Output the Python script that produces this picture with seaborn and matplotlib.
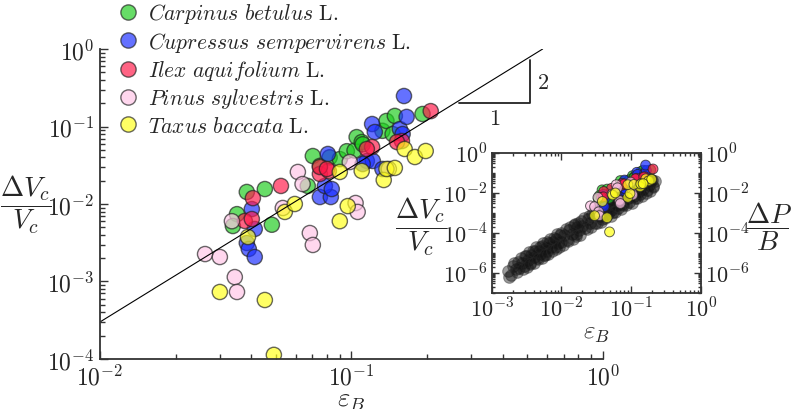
import numpy as np
import pandas as pd
import matplotlib
matplotlib.use('Agg')
import matplotlib.pyplot as plt
import seaborn as sns
from matplotlib.lines import Line2D
from matplotlib.ticker import FuncFormatter, LogLocator, FixedLocator, NullFormatter

# strain eps_B and volume change dV_c/V_c per species
carpinus_eps = [0.0384, 0.0453, 0.0351, 0.0338, 0.0483, 0.0671, 0.0703, 0.075, 0.082, 0.090,
                0.096, 0.103, 0.105, 0.110, 0.111, 0.133, 0.138, 0.149, 0.146, 0.192]
carpinus_dv = [0.0143, 0.0156, 0.0074, 0.0052, 0.0054, 0.0171, 0.0416, 0.031, 0.040, 0.038,
               0.048, 0.049, 0.073, 0.063, 0.059, 0.088, 0.118, 0.137, 0.080, 0.145]
cupressus_eps = [0.0402, 0.0413, 0.0384, 0.0391, 0.0413, 0.075, 0.0829, 0.0785, 0.0807, 0.0836,
                 0.1153, 0.1218, 0.111, 0.121, 0.124, 0.156, 0.160, 0.166, 0.162, 0.133]
cupressus_dv = [0.0086, 0.00476, 0.00314, 0.00263, 0.00207, 0.0123, 0.0123, 0.0171, 0.0442, 0.0156,
                0.0359, 0.0359, 0.0328, 0.1077, 0.0849, 0.0929, 0.080, 0.133, 0.2475, 0.0283]
ilex_eps = [0.0525, 0.0406, 0.0377, 0.0402, 0.075, 0.0814, 0.075, 0.080, 0.121, 0.1153,
            0.159, 0.152, 0.207]
ilex_dv = [0.0171, 0.0119, 0.00604, 0.0064, 0.0244, 0.0267, 0.030, 0.0283, 0.0544, 0.0513,
           0.065, 0.063, 0.158]
pinus_eps = [0.0262, 0.030, 0.0344, 0.0351, 0.0335, 0.0534, 0.0684, 0.0703, 0.104, 0.106,
             0.0613, 0.064, 0.0986, 0.141]
pinus_dv = [0.00226, 0.00207, 0.00114, 0.000732, 0.0060, 0.00888, 0.00422, 0.00296, 0.0103, 0.0079,
            0.0259, 0.0181, 0.0348, 0.0283]
taxus_eps = [0.0388, 0.0544, 0.0596, 0.030, 0.0453, 0.0492, 0.090, 0.0968, 0.1346, 0.090,
             0.110, 0.163, 0.179, 0.1977, 0.138, 0.149]
taxus_dv = [0.00375, 0.0079, 0.0100, 0.000732, 0.000577, 0.000113, 0.0060, 0.0094, 0.0204, 0.0259,
            0.0267, 0.0513, 0.0404, 0.0483, 0.0283, 0.0292]

species = ['Carpinus betulus', 'Cupressus sempervirens', 'Ilex aquifolium',
           'Pinus sylvestris', 'Taxus baccata']
colors = ['#1fcc1f', '#1a2eff', '#ff1a4a', '#ffc4e6', '#ffff1a']

# inset: pressure dP/B vs eps_B (black cloud)
press_eps = [0.0017, 0.0019, 0.0020, 0.0022, 0.0024, 0.0025, 0.0027, 0.0029, 0.0031, 0.0033,
             0.0035, 0.0037, 0.0040, 0.0042, 0.0045, 0.0048, 0.0050, 0.0053, 0.0056, 0.0060,
             0.0063, 0.0067, 0.0071, 0.0075, 0.0080, 0.0085, 0.0090, 0.0095, 0.010, 0.011,
             0.012, 0.013, 0.014, 0.015, 0.016, 0.017, 0.018, 0.019, 0.020, 0.022,
             0.024, 0.026, 0.028, 0.030, 0.033, 0.036, 0.040, 0.044, 0.048, 0.052,
             0.057, 0.062, 0.068, 0.075, 0.082, 0.090, 0.10, 0.11, 0.12, 0.13,
             0.14, 0.15, 0.16, 0.18, 0.20, 0.22,
             0.035, 0.038, 0.042, 0.046, 0.050, 0.055, 0.060, 0.065, 0.070, 0.078,
             0.085, 0.095, 0.105, 0.115, 0.125, 0.135, 0.150, 0.170, 0.190, 0.210,
             0.0018, 0.0021, 0.0023, 0.0026, 0.0028, 0.0030, 0.0032, 0.0034, 0.0036, 0.0039,
             0.0041, 0.0044, 0.0047, 0.0049, 0.0052, 0.0055, 0.0058, 0.0062, 0.0065, 0.0069,
             0.0073, 0.0078, 0.0083, 0.0088, 0.0093, 0.0098, 0.0105, 0.0115, 0.0125, 0.0135,
             0.0145, 0.0155, 0.0165, 0.0175, 0.0185, 0.021, 0.023, 0.025, 0.027, 0.029,
             0.032, 0.034, 0.037, 0.039, 0.043, 0.047, 0.051, 0.054, 0.059, 0.064,
             0.071, 0.077, 0.086, 0.093, 0.102, 0.112, 0.122, 0.132, 0.145, 0.155,
             0.165, 0.175, 0.185, 0.195, 0.205]
press_dp = [1.23e-6, 7.9e-7, 2.2e-6, 1.5e-6, 3.6e-6, 1.8e-6, 3.3e-6, 2.2e-6, 7.1e-6, 4.6e-6,
            3.3e-6, 8.3e-6, 6.2e-6, 1.2e-5, 5.6e-6, 1.3e-5, 8.9e-6, 2.25e-5, 8.0e-6, 1.85e-5,
            1.3e-5, 3.3e-5, 2.1e-5, 3.4e-5, 1.9e-5, 4.9e-5, 3.1e-5, 7.9e-5, 3.5e-5, 7.7e-5,
            4.6e-5, 1.4e-4, 9.1e-5, 2.4e-4, 8.6e-5, 1.95e-4, 1.4e-4, 3.9e-4, 2.2e-4, 1.7e-4,
            5.2e-4, 3.1e-4, 9.1e-4, 3.3e-4, 9.1e-4, 6.9e-4, 1.95e-3, 8.5e-4, 2.3e-3, 1.4e-3,
            3.7e-3, 2.5e-3, 6.1e-3, 2.7e-3, 7.3e-3, 5.6e-3, 0.014, 6.8e-3, 0.0164, 0.0123,
            0.0256, 0.0149, 0.0305, 0.0248, 0.044, 0.038,
            1.26e-3, 5.0e-4, 2.0e-3, 8.9e-4, 3.2e-3, 1.1e-3, 5.0e-3, 1.8e-3, 7.1e-3, 2.5e-3,
            0.010, 3.5e-3, 0.0158, 5.6e-3, 0.0224, 8.9e-3, 0.0316, 0.0141, 0.050, 0.0224,
            6.2e-7, 3.1e-6, 1.06e-6, 5.5e-6, 1.6e-6, 7.4e-6, 1.9e-6, 1.09e-5, 2.8e-6, 1.3e-5,
            3.3e-6, 1.9e-5, 4.9e-6, 2.1e-5, 5.4e-6, 3.1e-5, 7.7e-6, 3.5e-5, 8.8e-6, 5.0e-5,
            1.26e-5, 5.8e-5, 1.5e-5, 8.4e-5, 2.1e-5, 9.5e-5, 2.5e-5, 1.5e-4, 4.0e-5, 1.9e-4,
            4.9e-5, 2.8e-4, 7.3e-5, 3.3e-4, 8.3e-5, 5.5e-4, 1.5e-4, 7.1e-4, 1.9e-4, 1.23e-3,
            3.0e-4, 1.7e-3, 3.7e-4, 2.3e-3, 5.7e-4, 3.5e-3, 7.4e-4, 4.7e-3, 1.13e-3, 6.7e-3,
            1.5e-3, 0.010, 2.5e-3, 0.015, 3.3e-3, 0.020, 5.4e-3, 0.0286, 6.9e-3, 0.0358,
            0.0103, 0.0466, 0.0132, 0.0467, 0.0207]

# slope-2 guide line and triangle
fit_x = [0.01, 0.577]
fit_y = [3e-4, 1.0]
tri_x = [0.267, 0.516]
tri_y = [0.201, 0.72]

frames = []
for name, e, d in zip(species,
                      [carpinus_eps, cupressus_eps, ilex_eps, pinus_eps, taxus_eps],
                      [carpinus_dv, cupressus_dv, ilex_dv, pinus_dv, taxus_dv]):
    frames.append(pd.DataFrame({'eps': e, 'dv': d, 'species': name}))
df = pd.concat(frames, ignore_index=True)
palette = dict(zip(species, colors))

sns.set_style('ticks')
plt.rcParams['mathtext.fontset'] = 'cm'
plt.rcParams['font.family'] = ['DejaVu Serif']
plt.rcParams['axes.edgecolor'] = '#333333'

fig = plt.figure(figsize=(7.93, 4.10), dpi=100)
ax = fig.add_axes([0.126, 0.122, 0.634, 0.756])
ax_in = fig.add_axes([0.620, 0.283, 0.2636, 0.3415])

sexp = FuncFormatter(lambda v, p: r'$10^{%d}$' % int(round(np.log10(v))))

# main panel
sns.scatterplot(data=df, x='eps', y='dv', hue='species', hue_order=species, palette=palette,
                s=120, alpha=0.68, edgecolor='#222222', linewidth=1.0, ax=ax, legend=False)
ax.set_xscale('log')
ax.set_yscale('log')
ax.set_xlim(1e-2, 1)
ax.set_ylim(1e-4, 1)
ax.plot(fit_x, fit_y, color='black', lw=0.8)
ax.plot([tri_x[0], tri_x[1], tri_x[1]], [tri_y[0], tri_y[0], tri_y[1]], color='#222222', lw=1.3)
ax.text(np.sqrt(tri_x[0] * tri_x[1]), tri_y[0] * 0.88, '$1$', ha='center', va='top', fontsize=16)
ax.text(tri_x[1] * 1.06, np.sqrt(tri_y[0] * tri_y[1]), '$2$', ha='left', va='center', fontsize=16)
sns.despine(ax=ax)
for axis in [ax.xaxis, ax.yaxis]:
    axis.set_major_locator(LogLocator(base=10, numticks=10))
    axis.set_minor_locator(LogLocator(base=10, subs=np.arange(2, 10), numticks=20))
    axis.set_major_formatter(sexp)
    axis.set_minor_formatter(NullFormatter())
ax.tick_params(which='both', direction='in', labelsize=17, color='#333333', width=1)
ax.tick_params(which='major', length=6, pad=4)
ax.tick_params(which='minor', length=3.5)
ax.spines['left'].set_linewidth(1.3)
ax.spines['bottom'].set_linewidth(1.3)
ax.set_xlabel(r'$\varepsilon_B$', fontsize=19, va='center')
ax.xaxis.set_label_coords(0.5, -0.13)
ax.set_ylabel(r'$\dfrac{\Delta V_c}{V_c}$', fontsize=20, rotation=0, ha='center', va='center')
ax.yaxis.set_label_coords(-0.148, 0.5)

# inset
sns.scatterplot(x=press_eps, y=press_dp, color='#111111', alpha=0.42, s=70,
                edgecolor='#2a2a2a', linewidth=0.8, ax=ax_in, legend=False)
sns.scatterplot(data=df, x='eps', y='dv', hue='species', hue_order=species, palette=palette,
                s=50, alpha=0.72, edgecolor='#222222', linewidth=0.7, ax=ax_in, legend=False)
ax_in.set_xscale('log')
ax_in.set_yscale('log')
ax_in.set_xlim(1e-3, 1)
ax_in.set_ylim(1e-7, 1)
ax_in.xaxis.set_major_locator(LogLocator(base=10, numticks=10))
ax_in.xaxis.set_minor_locator(LogLocator(base=10, subs=np.arange(2, 10), numticks=20))
ax_in.yaxis.set_major_locator(FixedLocator([1e0, 1e-2, 1e-4, 1e-6]))
ax_in.yaxis.set_minor_locator(LogLocator(base=10, subs=np.arange(1, 10), numticks=20))
for axis in [ax_in.xaxis, ax_in.yaxis]:
    axis.set_major_formatter(sexp)
    axis.set_minor_formatter(NullFormatter())
ax_in.tick_params(which='both', direction='in', top=True, right=True, labelright=True,
                  labelsize=16, color='#333333', width=1)
ax_in.tick_params(which='major', length=5, pad=3)
ax_in.tick_params(which='minor', length=2.5)
for sp in ax_in.spines.values():
    sp.set_linewidth(1.3)
ax_in.set_xlabel(r'$\varepsilon_B$', fontsize=18, labelpad=0)
ax_in.set_ylabel(r'$\dfrac{\Delta V_c}{V_c}$', fontsize=20, rotation=0, ha='center', va='center')
ax_in.yaxis.set_label_coords(-0.34, 0.48)
ax_in.text(1.325, 0.48, r'$\dfrac{\Delta P}{B}$', transform=ax_in.transAxes, fontsize=20,
           ha='center', va='center')

# legend
handles = [Line2D([], [], marker='o', ls='', markersize=11, markerfacecolor=c,
                  markeredgecolor='#222222', alpha=0.68) for c in colors]
labels = [r'$\mathit{%s}\ \mathrm{L.}$' % s.replace(' ', r'\ ') for s in species]
fig.legend(handles, labels, loc='upper left', bbox_to_anchor=(0.148, 0.994), frameon=False,
           fontsize=15.5, handlelength=1.0, handletextpad=0.4, labelspacing=0.2,
           borderaxespad=0, borderpad=0)

fig.savefig('out.png', dpi=100)
